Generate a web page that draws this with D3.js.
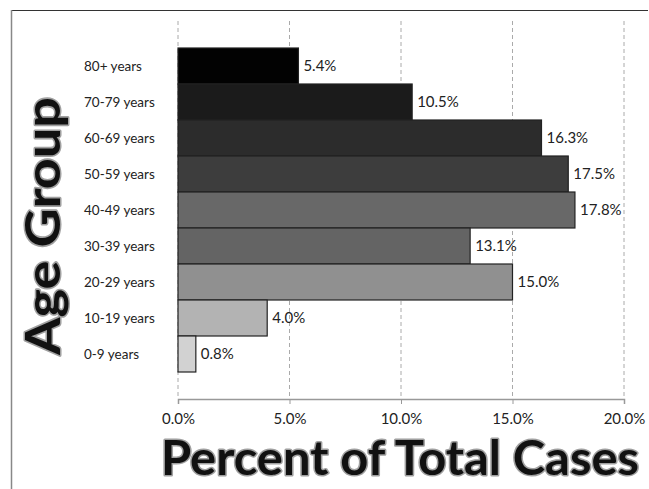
<!DOCTYPE html>
<html>
<head>
<meta charset="utf-8">
<script src="https://cdn.jsdelivr.net/npm/d3@7"></script>
<style>
  body { margin: 0; background: #fff; }
  text { font-family: Lato, "Open Sans", sans-serif; }
</style>
</head>
<body>
<svg width="649" height="489"></svg>
<script>
// age groups, top to bottom
var ageGroups = ["80+ years", "70-79 years", "60-69 years", "50-59 years", "40-49 years",
                 "30-39 years", "20-29 years", "10-19 years", "0-9 years"];
var percents = [5.4, 10.5, 16.3, 17.5, 17.8, 13.1, 15.0, 4.0, 0.8];
var barColors = ["#020202", "#1b1b1b", "#2c2c2c", "#3d3d3d", "#686868",
                 "#646464", "#909090", "#b3b3b3", "#d2d2d2"];
var xTicks = [0, 5, 10, 15, 20];

var svg = d3.select("svg");
var plot = {left: 178, right: 624, top: 21, bottom: 399};

// frame
svg.append("line").attr("x1", 11).attr("x2", 648).attr("y1", 10.5).attr("y2", 10.5)
  .attr("stroke", "#333").attr("stroke-width", 1.2);
svg.append("line").attr("x1", 11.5).attr("x2", 11.5).attr("y1", 10).attr("y2", 489)
  .attr("stroke", "#888").attr("stroke-width", 1.5);

var x = d3.scaleLinear().domain([0, 20]).range([plot.left, plot.right]);
var y = d3.scaleBand().domain(ageGroups).range([48, 372]).padding(0);

// gridlines
svg.append("g").selectAll("line")
  .data(xTicks)
  .enter().append("line")
  .attr("x1", function(d) { return x(d); })
  .attr("x2", function(d) { return x(d); })
  .attr("y1", plot.top).attr("y2", plot.bottom)
  .attr("stroke", "#aaa").attr("stroke-dasharray", "4,3");

// x axis
var xAxis = svg.append("g")
  .attr("transform", "translate(0," + plot.bottom + ")")
  .call(d3.axisBottom(x).tickValues(xTicks).tickSize(5).tickPadding(9)
    .tickFormat(function(d) { return d.toFixed(1) + "%"; }));
xAxis.select(".domain").attr("stroke", "#999").attr("stroke-width", 1.5);
xAxis.selectAll(".tick line").attr("stroke", "#999");
xAxis.selectAll("text").attr("font-family", "Lato, 'Open Sans', sans-serif")
  .attr("font-size", 15).attr("fill", "#222");

// bars
svg.append("g").selectAll("rect")
  .data(percents)
  .enter().append("rect")
  .attr("x", x(0))
  .attr("y", function(d, i) { return y(ageGroups[i]); })
  .attr("width", function(d) { return x(d) - x(0); })
  .attr("height", y.bandwidth())
  .attr("fill", function(d, i) { return barColors[i]; })
  .attr("stroke", "#222").attr("stroke-width", 1.2);

// value labels
svg.append("g").selectAll("text")
  .data(percents)
  .enter().append("text")
  .attr("x", function(d) { return x(d) + 5; })
  .attr("y", function(d, i) { return y(ageGroups[i]) + y.bandwidth() / 2; })
  .attr("dy", "0.36em")
  .attr("font-size", 15).attr("fill", "#222")
  .text(function(d) { return d.toFixed(1) + "%"; });

// category labels
svg.append("g").selectAll("text")
  .data(ageGroups)
  .enter().append("text")
  .attr("x", 84)
  .attr("y", function(d) { return y(d) + y.bandwidth() / 2; })
  .attr("dy", "0.36em")
  .attr("font-size", 13.5).attr("fill", "#222")
  .text(function(d) { return d; });

// axis titles
function bigTitle(sel) {
  sel.attr("font-family", "Lato, 'Open Sans', sans-serif")
    .attr("font-weight", 700).attr("font-size", 48)
    .attr("fill", "#111").attr("stroke", "#a0a0a0").attr("stroke-width", 3)
    .attr("paint-order", "stroke").attr("stroke-linejoin", "round")
    .attr("lengthAdjust", "spacingAndGlyphs");
}
svg.append("text")
  .attr("transform", "translate(60,226) rotate(-90)")
  .attr("text-anchor", "middle")
  .attr("textLength", 258)
  .call(bigTitle)
  .text("Age Group");
svg.append("text")
  .attr("x", 400).attr("y", 475)
  .attr("text-anchor", "middle")
  .attr("textLength", 478)
  .call(bigTitle)
  .text("Percent of Total Cases");
</script>
</body>
</html>
